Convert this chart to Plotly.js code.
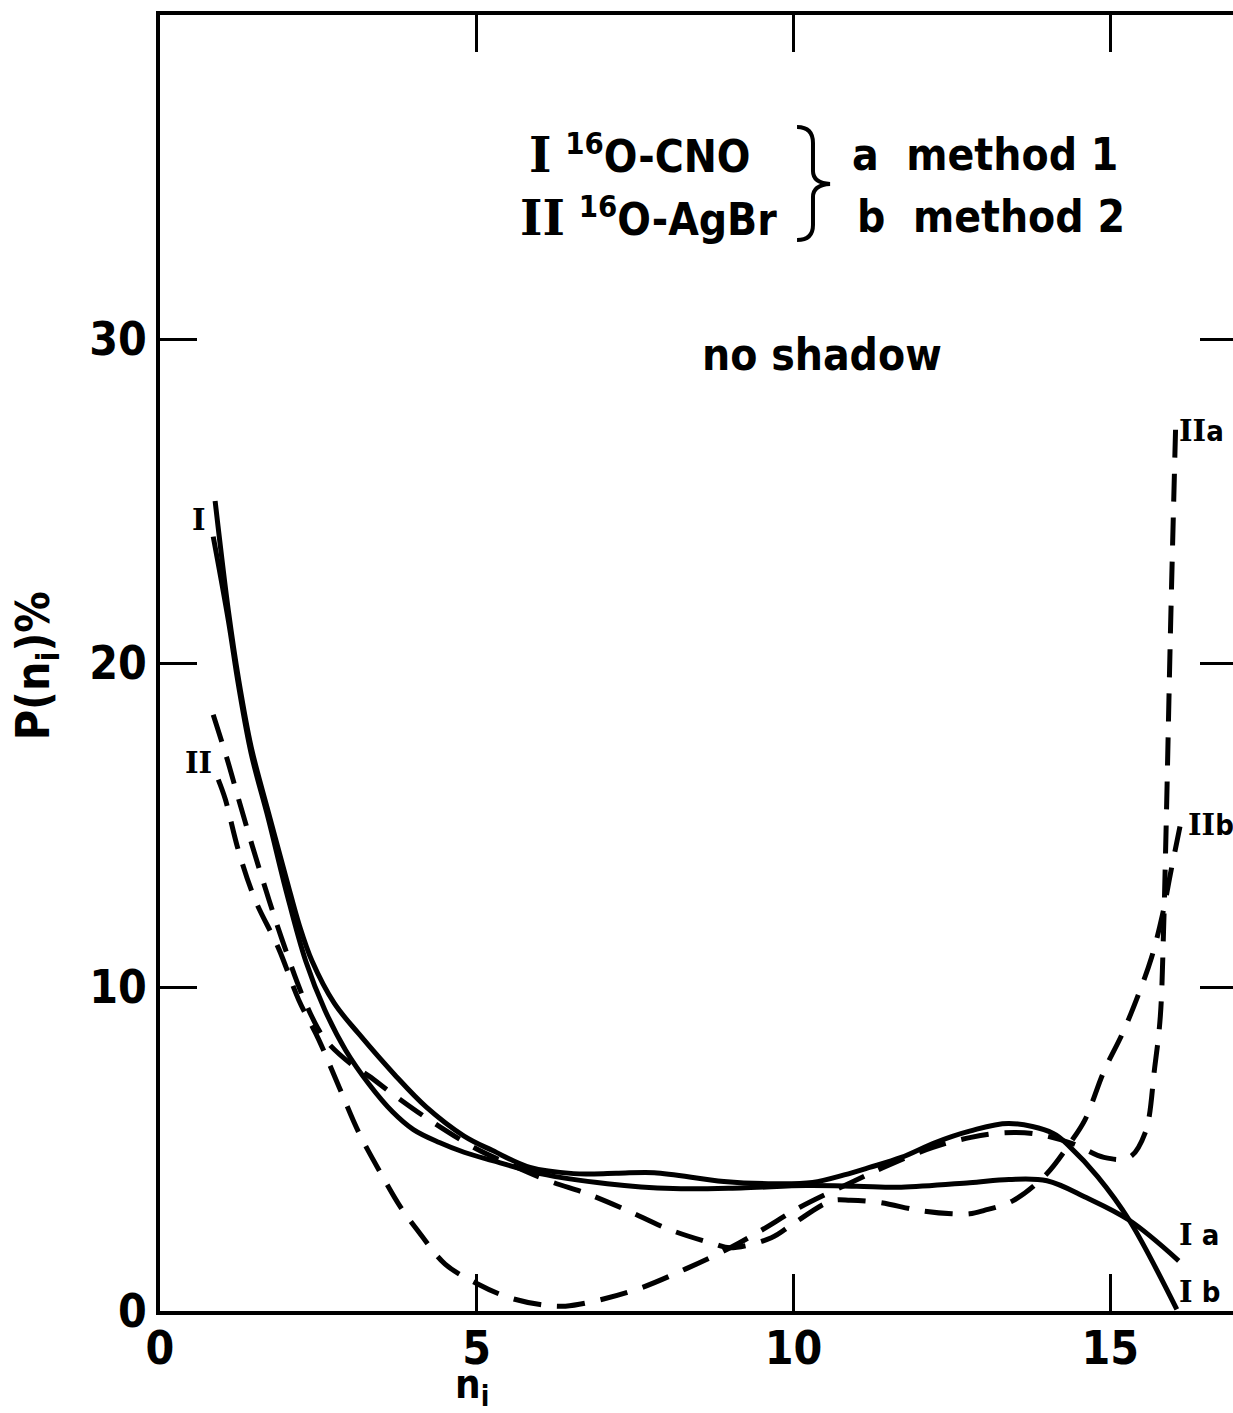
<!DOCTYPE html>
<html>
<head>
<meta charset="utf-8">
<script src="https://cdn.plot.ly/plotly-3.0.1.min.js"></script>
<style>
html,body{margin:0;padding:0;background:#fff;overflow:hidden;width:1233px;height:1413px;}
#chart{width:1240px;height:1413px;}
</style>
</head>
<body>
<div id="chart"></div>
<script>
// ---- data ----
const IaX = [0.84, 1.08, 1.24, 1.44, 1.71, 2.0, 2.3, 2.6, 2.93, 3.3, 3.67, 4.0, 4.41, 4.8, 5.25, 6.0, 7.06, 8.1, 9.17, 10.2, 11.0, 11.7, 12.78, 13.4, 14.0, 14.62, 15.3, 16.08];
const IaY = [23.9, 21.3, 19.3, 17.2, 15.2, 12.9, 10.8, 9.3, 8.05, 7.0, 6.15, 5.6, 5.2, 4.9, 4.64, 4.24, 3.93, 3.78, 3.8, 3.87, 3.85, 3.82, 3.96, 4.06, 4.02, 3.5, 2.8, 1.55];

const IbX = [0.87, 1.08, 1.24, 1.44, 1.71, 2.0, 2.2, 2.4, 2.75, 3.14, 3.7, 4.2, 4.8, 5.25, 5.84, 6.53, 7.2, 7.8, 8.9, 9.7, 10.3, 10.8, 11.2, 11.7, 12.24, 12.78, 13.4, 14.1, 14.37, 14.8, 15.3, 16.05];
const IbY = [25.0, 21.6, 19.5, 17.4, 15.4, 13.3, 11.9, 10.8, 9.5, 8.55, 7.3, 6.3, 5.4, 4.95, 4.43, 4.24, 4.25, 4.27, 4.0, 3.93, 3.97, 4.2, 4.43, 4.74, 5.2, 5.55, 5.79, 5.48, 5.05, 4.15, 2.8, 0.05];

const IIaX = [0.92, 1.03, 1.24, 1.5, 1.87, 2.19, 2.5, 2.83, 3.14, 3.5, 3.8, 4.1, 4.5, 5.0, 5.5, 6.0, 6.4, 7.0, 7.6, 8.3, 9.0, 9.5, 10.1, 10.9, 11.5, 12.2, 12.8, 13.3, 13.8, 14.4, 14.9, 15.3, 15.55, 15.7, 15.79, 15.84, 15.88, 15.95, 16.03];
const IIaY = [16.4, 15.8, 14.2, 12.7, 11.2, 9.6, 8.4, 6.9, 5.5, 4.2, 3.2, 2.4, 1.45, 0.85, 0.42, 0.2, 0.15, 0.37, 0.72, 1.3, 1.95, 2.5, 3.2, 3.96, 4.5, 5.05, 5.36, 5.5, 5.47, 5.17, 4.74, 4.74, 5.5, 7.5, 9.1, 11.7, 14.8, 21.0, 27.2];

const IIbX = [0.84, 1.05, 1.24, 1.45, 1.67, 1.92, 2.3, 2.6, 3.03, 3.3, 3.67, 4.25, 5.0, 5.5, 6.16, 6.63, 6.9, 7.38, 8.06, 8.75, 9.0, 9.65, 10.0, 10.6, 10.9, 11.35, 12.0, 12.5, 12.78, 13.0, 13.46, 13.98, 14.37, 14.6, 14.9, 15.2, 15.45, 15.65, 15.82, 15.96, 16.1];
const IIbY = [18.4, 17.1, 15.8, 14.4, 13.0, 11.5, 9.5, 8.4, 7.6, 7.25, 6.7, 5.9, 5.0, 4.55, 4.0, 3.7, 3.5, 3.1, 2.5, 2.07, 1.95, 2.26, 2.7, 3.4, 3.42, 3.35, 3.1, 3.0, 3.0, 3.1, 3.4, 4.2, 5.2, 5.9, 7.4, 8.6, 9.8, 10.9, 12.2, 13.6, 14.95];

const xTicks = [0, 5, 10, 15];
const yTicks = [0, 10, 20, 30];
const xTickText = ['0', '5', '10', '15'];
const yTickText = ['0', '10', '20', '30'];

const SANS = 'DejaVu Sans Condensed, DejaVu Sans, sans-serif';
const SERIF = 'DejaVu Serif';

function solid(x, y, name) {
  return {x: x, y: y, name: name, mode: 'lines', type: 'scatter',
    line: {color: '#000', width: 5, shape: 'spline', smoothing: 1}, hoverinfo: 'skip'};
}
function dashed(x, y, name) {
  return {x: x, y: y, name: name, mode: 'lines', type: 'scatter',
    line: {color: '#000', width: 5, shape: 'spline', smoothing: 1, dash: '28px,16px'}, hoverinfo: 'skip'};
}

const data = [
  solid(IaX, IaY, 'Ia'),
  solid(IbX, IbY, 'Ib'),
  dashed(IIaX, IIaY, 'IIa'),
  dashed(IIbX, IIbY, 'IIb')
];

const txtFont = {family: SANS, size: 44, color: '#000', weight: 'bold'};
const lblFont = {family: SANS, size: 29, color: '#000', weight: 'bold'};

function ann(text, x, y, opts) {
  return Object.assign({text: text, x: x, y: y, xref: 'x', yref: 'y', showarrow: false,
    font: txtFont, xanchor: 'center', yanchor: 'middle'}, opts || {});
}
const serifI = (s, sz) => '<span style="font-family:' + SERIF + ';font-weight:bold' + (sz ? ';font-size:' + sz + 'px' : '') + '">' + s + '</span>';

const annotations = [
  ann(serifI('I', 48) + ' <sup>16</sup>O-CNO', 5.8, 35.7, {xanchor: 'left'}),
  ann(serifI('II', 48) + ' <sup>16</sup>O-AgBr', 5.65, 33.77, {xanchor: 'left'}),
  ann('a  method 1', 10.89, 35.7, {xanchor: 'left'}),
  ann('b  method 2', 10.97, 33.77, {xanchor: 'left'}),
  ann('no shadow', 10.45, 29.53),
  ann(serifI('I'), 0.62, 24.4, {font: lblFont}),
  ann(serifI('II'), 0.6, 16.9, {font: lblFont}),
  ann(serifI('II') + 'a', 16.05, 27.15, {font: lblFont, xanchor: 'left'}),
  ann(serifI('II') + 'b', 16.2, 15.0, {font: lblFont, xanchor: 'left'}),
  ann(serifI('I') + ' a', 16.05, 2.35, {font: lblFont, xanchor: 'left'}),
  ann(serifI('I') + ' b', 16.05, 0.6, {font: lblFont, xanchor: 'left'}),
  {text: 'P(n<sub>i</sub>)%', xref: 'paper', yref: 'paper', x: -0.114, y: 0.4977, showarrow: false,
    textangle: -90, font: {family: SANS, size: 46, color: '#000', weight: 'bold'}, xanchor: 'center', yanchor: 'middle'},
  {text: 'n<sub>i</sub>', xref: 'x', yref: 'paper', x: 4.62, y: -0.059, showarrow: false,
    font: {family: SANS, size: 40, color: '#000', weight: 'bold'}, xanchor: 'left', yanchor: 'middle'}
];

// curly brace joining the two legend lines (decoration, drawn in pixel-derived paper coords)
const PW = 1077, PH = 1296, PL = 160, PB = 1311;
function P(px, py) { return ((px - PL) / PW).toFixed(4) + ',' + ((PB - py) / PH).toFixed(4); }
const bracePath = 'M' + P(797, 127) + ' Q' + P(813, 127) + ' ' + P(813, 143) +
  ' L' + P(813, 171) + ' Q' + P(813, 183) + ' ' + P(830, 184) +
  ' Q' + P(813, 185) + ' ' + P(813, 197) + ' L' + P(813, 225) +
  ' Q' + P(813, 240) + ' ' + P(797, 240);

const axisCommon = {
  showline: true, linewidth: 4, linecolor: '#000', mirror: 'ticks',
  ticks: 'inside', ticklen: 37, tickwidth: 3, tickcolor: '#000',
  showgrid: false, zeroline: false, fixedrange: true,
  tickfont: {family: SANS, size: 46, color: '#000', weight: 'bold'}
};

const layout = {
  width: 1240, height: 1413,
  margin: {l: 160, r: 3, t: 15, b: 102},
  paper_bgcolor: '#fff', plot_bgcolor: '#fff',
  showlegend: false,
  xaxis: Object.assign({}, axisCommon, {range: [0, 17], tickmode: 'array', tickvals: xTicks, ticktext: xTickText, ticklabelstandoff: -6}),
  yaxis: Object.assign({}, axisCommon, {range: [0, 40], tickmode: 'array', tickvals: yTicks, ticktext: yTickText}),
  annotations: annotations,
  shapes: [{type: 'path', xref: 'paper', yref: 'paper', path: bracePath, line: {color: '#000', width: 4}}]
};

Plotly.newPlot('chart', data, layout, {staticPlot: true, displayModeBar: false});
</script>
</body>
</html>
